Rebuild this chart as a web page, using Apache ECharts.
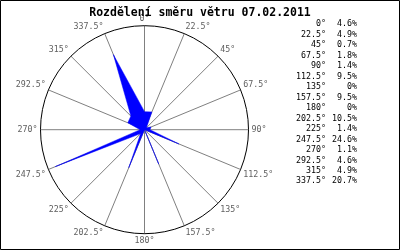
<!DOCTYPE html>
<html>
<head>
<meta charset="utf-8">
<script src="https://cdn.jsdelivr.net/npm/echarts@6/dist/echarts.min.js"></script>
<style>
html,body{margin:0;padding:0;background:#fff;}
#chart{width:400px;height:250px;}
</style>
</head>
<body>
<div id="chart"></div>
<script>
var titleText = 'Rozdělení směru větru 07.02.2011';
var directions = [0, 22.5, 45, 67.5, 90, 112.5, 135, 157.5, 180, 202.5, 225, 247.5, 270, 292.5, 315, 337.5];
var percents = [4.6, 4.9, 0.7, 1.8, 1.4, 9.5, 0, 9.5, 0, 10.5, 1.4, 24.6, 1.1, 4.6, 4.9, 20.7];

var seriesData = directions.map(function (d, i) { return [percents[i], d]; });
seriesData.push([percents[0], 360]);

var dirText = directions.map(function (d) { return d + '°'; }).join('\n');
var pctText = percents.map(function (p) { return p + '%'; }).join('\n');

var chart = echarts.init(document.getElementById('chart'), null, {renderer: 'canvas'});
var mono = '"DejaVu Sans Mono", "Liberation Mono", monospace';
chart.setOption({
  animation: false,
  backgroundColor: '#ffffff',
  title: {
    text: titleText,
    left: 'center',
    top: 2,
    textStyle: {fontFamily: mono, fontWeight: 'bold', fontSize: 11.5, color: '#000'}
  },
  polar: {center: [144.5, 129.7], radius: 104},
  angleAxis: {
    type: 'value', min: 0, max: 360, interval: 22.5, startAngle: 90, clockwise: true,
    axisLine: {show: true, lineStyle: {color: '#000', width: 1}},
    axisTick: {show: false},
    splitLine: {show: true, lineStyle: {color: '#808080', width: 1}},
    axisLabel: {
      margin: 3, color: '#606060', fontFamily: mono, fontSize: 8.3,
      formatter: function (v) { return v + '°'; }
    }
  },
  radiusAxis: {
    type: 'value', min: 0, max: 26.5,
    axisLine: {show: false}, axisTick: {show: false}, axisLabel: {show: false},
    splitLine: {show: false}
  },
  series: [{
    type: 'line', coordinateSystem: 'polar', data: seriesData,
    symbol: 'none', smooth: false,
    lineStyle: {color: '#0000ff', width: 0.5},
    areaStyle: {color: '#0000ff', opacity: 1}
  }],
  graphic: [
    {type: 'rect', shape: {x: 0.5, y: 0.5, width: 399, height: 249},
     style: {fill: 'none', stroke: '#000', lineWidth: 1}, z: 100},
    {type: 'text', x: 326, y: 19, style: {text: dirText, font: '8.3px ' + mono, fill: '#000', align: 'right', lineHeight: 10.47}},
    {type: 'text', x: 357, y: 19, style: {text: pctText, font: '8.3px ' + mono, fill: '#000', align: 'right', lineHeight: 10.47}}
  ]
});
</script>
</body>
</html>
